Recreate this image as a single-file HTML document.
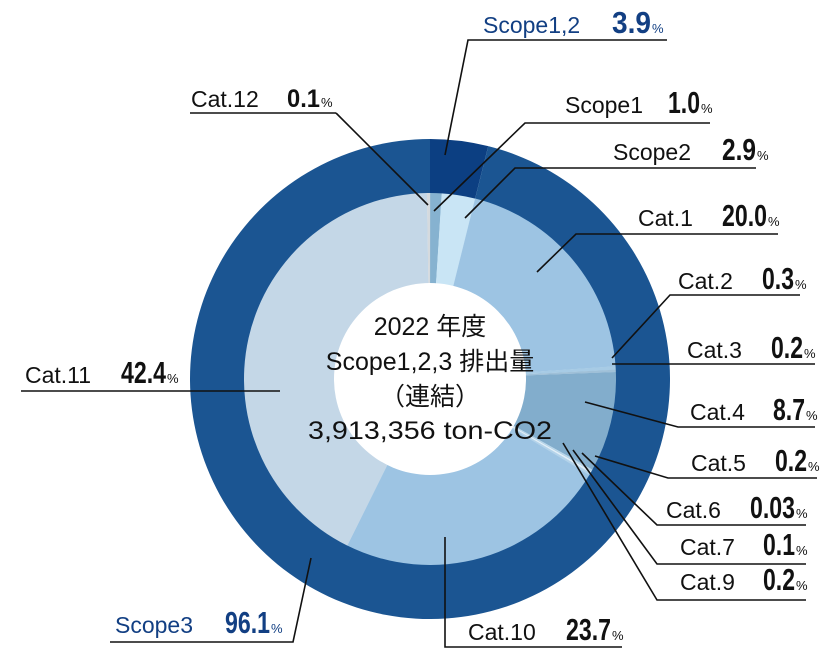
<!DOCTYPE html>
<html><head><meta charset="utf-8"><style>
html,body{margin:0;padding:0;background:#fff;}
svg{display:block;}
.l{font-family:"Liberation Sans","Noto Sans CJK JP",sans-serif;font-size:23px;fill:#111;}
.n{font-family:"Liberation Sans Narrow","Liberation Sans",sans-serif;font-weight:bold;font-size:31px;fill:#111;}
.p{font-family:"Liberation Sans Narrow","Liberation Sans",sans-serif;font-size:13px;fill:#111;}
.b{fill:#123f83;}
.c{font-family:"Liberation Sans","Noto Sans CJK JP",sans-serif;font-size:25px;fill:#111;text-anchor:middle;}
line,polyline{stroke:#111;stroke-width:1.6;fill:none;}
</style></head><body>
<svg id="s" width="836" height="655" viewBox="0 0 836 655" xmlns="http://www.w3.org/2000/svg">
<g id="pie"></g>
<circle cx="430" cy="379" r="96" fill="#fff"/>
<text class="c" x="430" y="335">2022 年度</text>
<text class="c" x="430" y="370">Scope1,2,3 排出量</text>
<text class="c" x="430" y="405">（連結）</text>
<text class="c" x="430" y="439" textLength="244" lengthAdjust="spacingAndGlyphs">3,913,356 ton-CO2</text>

<polyline points="667,40 468,40 445,155"/>
<polyline points="336,113 190,113"/><polyline points="336,113 428,205"/>
<polyline points="710,123 525,123 434,211"/>
<polyline points="756,168 515,168 465,218"/>
<polyline points="778,234 576,234 537,272"/>
<polyline points="800,295 670,295 612,358"/>
<polyline points="815,364 612,364"/>
<polyline points="815,427 678,427 585,402"/>
<polyline points="817,478 668,478 595,456"/>
<polyline points="806,525 657,525 582,453"/>
<polyline points="806,564 657,564 573,450"/>
<polyline points="806,600 657,600 563,443"/>
<polyline points="622,647 445,647 445,537"/>
<polyline points="21,391 280,391"/>
<polyline points="110,642 293,642 311,558"/>

<text class="l b" x="483" y="33">Scope1,2</text><text class="n b" x="612" y="33" textLength="39" lengthAdjust="spacingAndGlyphs">3.9</text><text class="p b" x="652" y="33">%</text>
<text class="l" x="191" y="107">Cat.12</text><text class="n" x="287" y="107" style="font-size:25px" textLength="33" lengthAdjust="spacingAndGlyphs">0.1</text><text class="p" x="321" y="107">%</text>
<text class="l" x="565" y="113">Scope1</text><text class="n" x="668" y="113" textLength="32" lengthAdjust="spacingAndGlyphs">1.0</text><text class="p" x="701" y="113">%</text>
<text class="l" x="613" y="160">Scope2</text><text class="n" x="722" y="160" textLength="34" lengthAdjust="spacingAndGlyphs">2.9</text><text class="p" x="757" y="160">%</text>
<text class="l" x="638" y="226">Cat.1</text><text class="n" x="722" y="226" textLength="45" lengthAdjust="spacingAndGlyphs">20.0</text><text class="p" x="768" y="226">%</text>
<text class="l" x="678" y="289">Cat.2</text><text class="n" x="762" y="289" textLength="32" lengthAdjust="spacingAndGlyphs">0.3</text><text class="p" x="795" y="289">%</text>
<text class="l" x="687" y="358">Cat.3</text><text class="n" x="771" y="358" textLength="32" lengthAdjust="spacingAndGlyphs">0.2</text><text class="p" x="804" y="358">%</text>
<text class="l" x="690" y="420">Cat.4</text><text class="n" x="773" y="420" textLength="32" lengthAdjust="spacingAndGlyphs">8.7</text><text class="p" x="806" y="420">%</text>
<text class="l" x="691" y="471">Cat.5</text><text class="n" x="775" y="471" textLength="32" lengthAdjust="spacingAndGlyphs">0.2</text><text class="p" x="808" y="471">%</text>
<text class="l" x="666" y="518">Cat.6</text><text class="n" x="750" y="518" textLength="45" lengthAdjust="spacingAndGlyphs">0.03</text><text class="p" x="796" y="518">%</text>
<text class="l" x="680" y="555">Cat.7</text><text class="n" x="763" y="555" textLength="32" lengthAdjust="spacingAndGlyphs">0.1</text><text class="p" x="796" y="555">%</text>
<text class="l" x="680" y="590">Cat.9</text><text class="n" x="763" y="590" textLength="32" lengthAdjust="spacingAndGlyphs">0.2</text><text class="p" x="796" y="590">%</text>
<text class="l" x="468" y="640">Cat.10</text><text class="n" x="566" y="640" textLength="45" lengthAdjust="spacingAndGlyphs">23.7</text><text class="p" x="612" y="640">%</text>
<text class="l" x="25" y="383">Cat.11</text><text class="n" x="121" y="383" textLength="45" lengthAdjust="spacingAndGlyphs">42.4</text><text class="p" x="167" y="383">%</text>
<text class="l b" x="115" y="633">Scope3</text><text class="n b" x="225" y="633" textLength="45" lengthAdjust="spacingAndGlyphs">96.1</text><text class="p b" x="271" y="633">%</text>
</svg>
<script>
(function(){
var cx=430,cy=379,g=document.getElementById('pie'),NS='http://www.w3.org/2000/svg';
function pt(r,a){var t=(a-90)*Math.PI/180;return [cx+r*Math.cos(t),cy+r*Math.sin(t)];}
function seg(r0,r1,a0,a1,col){
 var p1=pt(r1,a0),p2=pt(r1,a1),p3=pt(r0,a1),p4=pt(r0,a0),lg=(a1-a0)>180?1:0;
 var d='M'+p1+' A'+r1+','+r1+' 0 '+lg+' 1 '+p2+' L'+p3+' A'+r0+','+r0+' 0 '+lg+' 0 '+p4+' Z';
 var e=document.createElementNS(NS,'path');e.setAttribute('d',d);e.setAttribute('fill',col);g.appendChild(e);}
var o=[[3.9,'#0c3f82'],[96.1,'#1b5592']],a=0;
o.forEach(function(s){var b=a+s[0]*3.6;seg(185,240,a,b,s[1]);a=b;});
var inn=[[1.0,'#86b2d0'],[2.9,'#c9e5f5'],[20.0,'#9dc4e3'],[0.3,'#a7cbe5'],[0.2,'#9fc0d8'],[8.7,'#82adcc'],[0.2,'#b8d6ea'],[0.03,'#ffffff'],[0.1,'#dcebf6'],[0.2,'#b3d3ea'],[23.7,'#9dc4e3'],[42.4,'#c4d7e7'],[0.27,'#d5dade']];
a=0;inn.forEach(function(s){var b=a+s[0]*3.6;seg(90,186,a,b+0.05,s[1]);a=b;});
})();
</script>
</body></html>
